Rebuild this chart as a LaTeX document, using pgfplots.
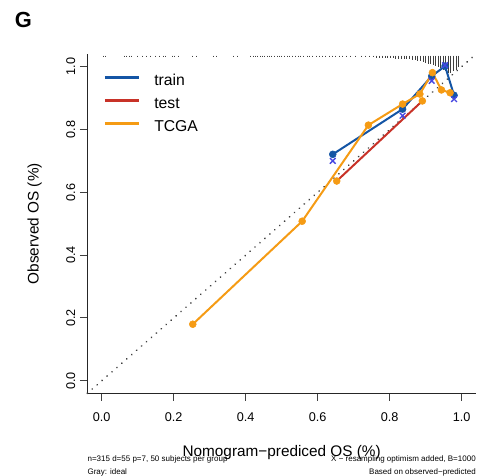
\documentclass[border=0pt]{standalone}
\usepackage{fontspec}
\setmainfont{Liberation Sans}
\usepackage{pgfplots}
\usepackage{pgfplotstable}
\pgfplotsset{compat=1.18}
\definecolor{trainblue}{RGB}{20,85,165}
\definecolor{xblue}{RGB}{70,70,225}
\definecolor{testred}{RGB}{200,50,40}
\definecolor{tcgaorange}{RGB}{245,155,20}

% rug of predicted risks along the top (x, downward length)
\pgfplotstableread{
rx rh
0.004 -0.004
0.010 -0.004
0.062 -0.004
0.068 -0.004
0.078 -0.004
0.083 -0.004
0.098 -0.004
0.112 -0.004
0.125 -0.004
0.134 -0.004
0.150 -0.004
0.160 -0.004
0.170 -0.004
0.176 -0.004
0.196 -0.004
0.203 -0.004
0.213 -0.004
0.252 -0.004
0.262 -0.004
0.310 -0.004
0.318 -0.004
0.366 -0.004
0.376 -0.004
0.414 -0.004
0.420 -0.004
0.427 -0.004
0.433 -0.004
0.440 -0.004
0.446 -0.004
0.452 -0.004
0.459 -0.004
0.466 -0.004
0.472 -0.004
0.480 -0.004
0.487 -0.004
0.494 -0.004
0.500 -0.004
0.508 -0.004
0.515 -0.004
0.522 -0.004
0.530 -0.004
0.538 -0.004
0.546 -0.004
0.553 -0.004
0.559 -0.004
0.570 -0.004
0.578 -0.004
0.586 -0.004
0.595 -0.004
0.604 -0.004
0.612 -0.004
0.622 -0.004
0.632 -0.004
0.640 -0.004
0.648 -0.004
0.660 -0.004
0.668 -0.004
0.680 -0.004
0.690 -0.004
0.706 -0.004
0.722 -0.005
0.732 -0.005
0.744 -0.005
0.756 -0.005
0.764 -0.006
0.772 -0.006
0.780 -0.006
0.787 -0.007
0.795 -0.007
0.802 -0.008
0.810 -0.008
0.817 -0.009
0.824 -0.009
0.832 -0.010
0.840 -0.010
0.846 -0.011
0.856 -0.012
0.864 -0.013
0.871 -0.014
0.878 -0.016
0.886 -0.018
0.893 -0.020
0.900 -0.022
0.907 -0.025
0.914 -0.028
0.921 -0.030
0.928 -0.033
0.935 -0.036
0.942 -0.040
0.949 -0.045
0.956 -0.050
0.963 -0.055
0.970 -0.055
0.977 -0.050
0.984 -0.045
0.991 -0.035
}\rugdata

\begin{document}
\begin{tikzpicture}
\path[use as bounding box] (-65.5pt,-62pt) rectangle (291.5pt,295pt);
\begin{axis}[
  scale only axis, width=291.5pt, height=254.4pt,
  xmin=-0.04, xmax=1.04, ymin=-0.04, ymax=1.04,
  axis x line*=bottom, axis y line*=left,
  axis line style={-, line width=0.8pt, black!85},
  tick align=outside, major tick length=5.5pt,
  tick style={line width=0.8pt, black!75},
  xtick={0,0.2,0.4,0.6,0.8,1}, ytick={0,0.2,0.4,0.6,0.8,1},
  xticklabels={0.0,0.2,0.4,0.6,0.8,1.0},
  yticklabels={0.0,0.2,0.4,0.6,0.8,1.0},
  ticklabel style={font=\fontsize{9.5}{11}\selectfont},
  xticklabel style={yshift=-5.5pt},
  yticklabel style={rotate=90, anchor=south},
  xlabel={Nomogram−prediced OS (\%)},
  ylabel={Observed OS (\%)},
  label style={font=\fontsize{11.5}{13}\selectfont},
  xlabel style={at={(axis description cs:0.5,-0.186)}, anchor=base},
  ylabel style={at={(axis description cs:-0.1256,0.5)}, anchor=base},
  clip=false,
  legend style={at={(rel axis cs:0,1)}, anchor=north west, xshift=11.8pt, yshift=-15pt,
    draw=none, fill=none, inner sep=0pt, row sep=6pt, column sep=10pt,
    font=\fontsize{11.8}{13}\selectfont,
    nodes={inner sep=0pt, text height=8.5pt, text depth=2.5pt}},
  legend cell align=left,
  legend image code/.code={\draw (0pt,0.3em) -- (26pt,0.3em);},
]
% ideal line
\addplot[black!75, line width=1.4pt, line cap=round, dash pattern=on 0.01pt off 4.9pt, forget plot]
  coordinates {(-0.04,-0.04) (1.04,1.04)};
% rug
\addplot[black!75, line width=0.5pt, forget plot, quiver={u=0, v=\thisrow{rh}}]
  table[x=rx, y expr=1.035] {\rugdata};
% train (apparent)
\addplot[trainblue, line width=1.5pt, mark=*, mark size=2.6pt, mark options={fill=trainblue, draw=trainblue, line width=0.4pt}, forget plot]
  coordinates {(0.642,0.721) (0.836,0.865) (0.917,0.970) (0.954,1.002) (0.979,0.909)};
% train (bias-corrected)
\addplot[xblue, only marks, mark=x, mark size=3pt, line width=1pt, forget plot]
  coordinates {(0.642,0.700) (0.836,0.844) (0.917,0.955) (0.954,1.005) (0.979,0.897)};
% test
\addplot[testred, line width=1.5pt, mark=*, mark size=2.6pt, mark options={fill=tcgaorange, draw=tcgaorange, line width=0.4pt}, forget plot]
  coordinates {(0.653,0.636) (0.891,0.891)};
% TCGA
\addplot[tcgaorange, line width=1.5pt, mark=*, mark size=2.6pt, mark options={fill=tcgaorange, draw=tcgaorange, line width=0.4pt}, forget plot]
  coordinates {(0.253,0.180) (0.557,0.508) (0.741,0.814) (0.836,0.881) (0.884,0.913) (0.919,0.981) (0.944,0.926) (0.968,0.917)};

\addlegendimage{trainblue, line width=2.2pt}
\addlegendentry{train}
\addlegendimage{testred, line width=2.2pt}
\addlegendentry{test}
\addlegendimage{tcgaorange, line width=2.2pt}
\addlegendentry{TCGA}

\node[anchor=base west, inner sep=0pt, font=\fontsize{6}{7}\selectfont, yshift=-51.3pt] at (rel axis cs:0,0) {n=315 d=55 p=7, 50 subjects per group};
\node[anchor=base west, inner sep=0pt, font=\fontsize{6}{7}\selectfont, yshift=-60.7pt] at (rel axis cs:0,0) {Gray: ideal};
\node[anchor=base east, inner sep=0pt, font=\fontsize{6}{7}\selectfont, yshift=-51.3pt] at (rel axis cs:1,0) {X − resampling optimism added, B=1000};
\node[anchor=base east, inner sep=0pt, font=\fontsize{6}{7}\selectfont, yshift=-60.7pt] at (rel axis cs:1,0) {Based on observed−predicted};
\end{axis}
\node[anchor=base west, inner sep=0pt, font=\bfseries\fontsize{16.4}{18}\selectfont] at (-54.5pt,274.5pt) {G};
\end{tikzpicture}
\end{document}
